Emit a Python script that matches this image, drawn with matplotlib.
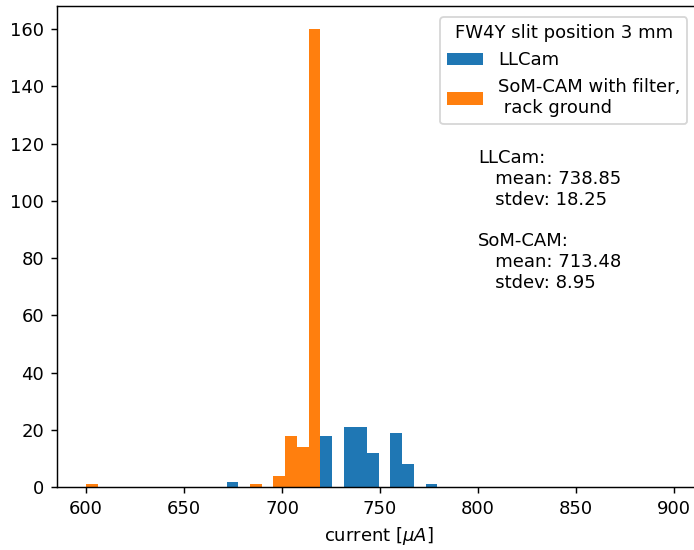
import numpy as np
import matplotlib.pyplot as plt

# histogram of beam current, 30 common bins over the combined range
bin_lo = 600.0
bin_hi = 779.2
n_bins = 30

# counts per bin (bin index -> count)
llcam_bins = [12, 20, 22, 23, 24, 26, 27, 29]
llcam_counts = [2, 18, 21, 21, 12, 19, 8, 1]

somcam_bins = [0, 14, 16, 17, 18, 19]
somcam_counts = [1, 1, 4, 18, 14, 160]

labels = ['LLCam', 'SoM-CAM with filter,\n rack ground']
legend_title = 'FW4Y slit position 3 mm'

stats_text = ('LLCam:\n   mean: 738.85\n   stdev: 18.25\n\n'
              'SoM-CAM:\n   mean: 713.48\n   stdev: 8.95')

edges = np.linspace(bin_lo, bin_hi, n_bins + 1)
centers = 0.5 * (edges[:-1] + edges[1:])

dpi = 130
fig = plt.figure(figsize=(694 / dpi, 550 / dpi), dpi=dpi)
ax = fig.add_axes([56.7 / 694, 62.7 / 550, (700.7 - 56.7) / 694, (487.3 - 6) / 550])

ax.hist(centers[llcam_bins], bins=edges, weights=llcam_counts, label=labels[0])
ax.hist(centers[somcam_bins], bins=edges, weights=somcam_counts, label=labels[1])

ax.set_xlim(585, 913.6)
ax.set_xlabel(r'current [$\mu A$]')
ax.legend(title=legend_title, loc='upper right', bbox_to_anchor=(0.9935, 0.996))
ax.text(800, 118, stats_text, va='top', ha='left')

fig.savefig('out.png', dpi=dpi)
